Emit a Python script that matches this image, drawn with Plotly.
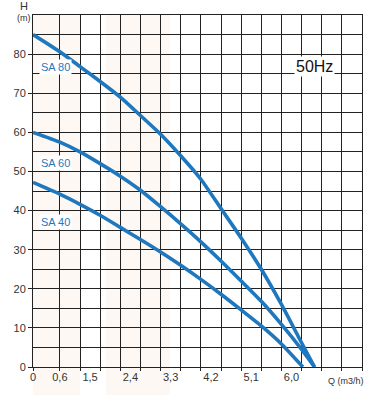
import plotly.graph_objects as go

# Flow Q (m3/h) sample points and head H (m) for each pump curve
q_sa80 = [0, 0.6, 1.05, 1.5, 1.95, 2.4, 2.85, 3.3, 3.75, 4.2, 4.65, 5.1, 5.55, 6.0, 6.29]
h_sa80 = [85, 80.6, 76.8, 73.0, 69.0, 64.3, 59.5, 54.0, 48.0, 40.5, 33.0, 25.0, 16.0, 6.2, 0]

q_sa60 = [0, 0.6, 1.05, 1.5, 1.95, 2.4, 2.85, 3.3, 3.75, 4.2, 4.65, 5.1, 5.55, 6.0, 6.29]
h_sa60 = [60, 57.5, 55.0, 52.0, 48.8, 45.2, 41.0, 36.6, 32.0, 27.1, 22.0, 16.8, 10.9, 4.5, 0]

q_sa40 = [0, 0.6, 1.05, 1.5, 1.95, 2.4, 2.85, 3.3, 3.75, 4.2, 4.65, 5.1, 5.55, 6.03]
h_sa40 = [47.2, 44.2, 41.6, 38.8, 35.7, 32.6, 29.4, 26.0, 22.4, 18.6, 14.6, 10.5, 5.9, 0]

series_names = ["SA 80", "SA 60", "SA 40"]
label_heights = [76.8, 52.2, 37.0]

x_tick_vals = [0, 0.6, 1.275, 2.175, 3.075, 3.975, 4.875, 5.775]
x_tick_text = ["0", "0,6", "1,5", "2,4", "3,3", "4,2", "5,1", "6,0"]
x_grid_vals = [0, 0.6, 1.05, 1.5, 1.95, 2.4, 2.85, 3.3, 3.75, 4.2, 4.65, 5.1, 5.55, 6.0, 6.45, 6.9, 7.35]
y_tick_vals = [0, 10, 20, 30, 40, 50, 60, 70, 80]

BLUE = "#1f78be"
FONT = "Liberation Sans, Arial"
fig = go.Figure()

for q, h in [(q_sa80, h_sa80), (q_sa60, h_sa60), (q_sa40, h_sa40)]:
    fig.add_trace(go.Scatter(x=q, y=h, mode="lines",
                             line=dict(color=BLUE, width=3.6, shape="spline", smoothing=0.6),
                             showlegend=False, hoverinfo="skip"))

for name, hy in zip(series_names, label_heights):
    fig.add_annotation(x=0.14, y=hy, text=name, showarrow=False, xanchor="left",
                       yanchor="middle", bgcolor="white", borderpad=1,
                       font=dict(family=FONT, size=11, color=BLUE))

fig.add_annotation(x=6.29, y=76.8, text="50Hz", showarrow=False, bgcolor="white",
                   borderpad=1, font=dict(family=FONT, size=16, color="#111"))

fig.add_annotation(x=7.0, y=0, yshift=-14, text="Q (m3/h)", showarrow=False,
                   yanchor="middle", font=dict(family=FONT, size=9, color="#333"))
fig.add_annotation(xref="paper", yref="paper", x=-0.045, y=1.0, yshift=9, text="H",
                   showarrow=False, yanchor="middle",
                   font=dict(family=FONT, size=11, color="#333"))
fig.add_annotation(xref="paper", yref="paper", x=-0.055, y=1.0, yshift=-3, text="(m)",
                   showarrow=False, yanchor="middle",
                   font=dict(family=FONT, size=9, color="#333"))

# very faint background watermark bands
for x0, x1 in [(0, 1.05), (1.63, 3.06)]:
    fig.add_shape(type="rect", xref="x", yref="paper", x0=x0, x1=x1, y0=-0.08, y1=1.0,
                  fillcolor="#fdf8f4", line_width=0, layer="below")

fig.update_layout(
    width=378, height=395,
    margin=dict(l=33, r=16, t=15, b=28, autoexpand=False),
    paper_bgcolor="white", plot_bgcolor="white",
    font=dict(family=FONT, size=11, color="#333"),
)
fig.update_xaxes(range=[0, 7.35], tickmode="array", tickvals=x_tick_vals, ticktext=x_tick_text,
                 showgrid=False, zeroline=False, ticks="", ticklen=0, automargin=False,
                 showline=True, linecolor="#222", linewidth=1, mirror=True,
                 minor=dict(tickmode="array", tickvals=x_grid_vals, showgrid=True,
                            gridcolor="#222", gridwidth=1, ticks="outside", ticklen=3,
                            tickcolor="#222"),
                 tickfont=dict(size=11, color="#333"))
fig.update_yaxes(range=[0, 90], tickmode="array", tickvals=y_tick_vals, automargin=False,
                 showgrid=True, gridcolor="#222", gridwidth=1, zeroline=False,
                 ticks="outside", ticklen=4, tickcolor="#222",
                 showline=True, linecolor="#222", linewidth=1, mirror=True,
                 minor=dict(dtick=5, showgrid=True, gridcolor="#222", gridwidth=1),
                 tickfont=dict(size=11, color="#333"))

fig.write_html("out.html", config={"displayModeBar": False},
               post_script="document.body.style.margin='0';")
